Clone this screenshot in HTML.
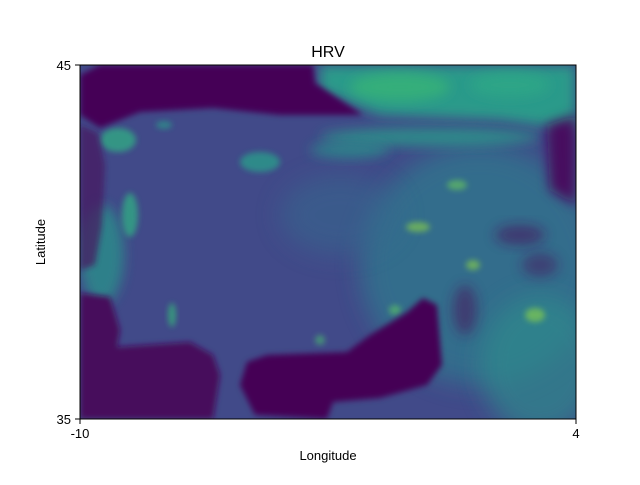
<!DOCTYPE html>
<html><head><meta charset="utf-8"><style>
body{margin:0;background:#fff;width:640px;height:480px;overflow:hidden;font-family:"Liberation Sans","DejaVu Sans",sans-serif;}
</style></head><body>
<svg width="640" height="480" viewBox="0 0 640 480">
<defs>
<filter id="b6" x="-50%" y="-50%" width="200%" height="200%"><feGaussianBlur stdDeviation="6"/></filter>
<filter id="b3" x="-50%" y="-50%" width="200%" height="200%"><feGaussianBlur stdDeviation="3"/></filter>
<filter id="b12" x="-50%" y="-50%" width="200%" height="200%"><feGaussianBlur stdDeviation="12"/></filter>
<clipPath id="pc"><rect x="0" y="0" width="496" height="354"/></clipPath>
</defs>
<text x="328" y="57" text-anchor="middle" font-size="16">HRV</text>
<g transform="translate(80,65)" clip-path="url(#pc)">
<rect width="496" height="354" fill="#414a89"/>
<ellipse cx="400" cy="200" rx="120" ry="120" fill="#2f7c8e" opacity="0.7" filter="url(#b12)"/>
<ellipse cx="460" cy="300" rx="60" ry="70" fill="#2d8a8c" opacity="0.7" filter="url(#b12)"/>
<ellipse cx="260" cy="150" rx="60" ry="40" fill="#366a8e" opacity="0.5" filter="url(#b12)"/>
<path d="M240,0 L496,0 L496,65 L420,55 L300,50 L240,25 Z" fill="#2a9a8a" filter="url(#b6)"/>
<ellipse cx="320" cy="22" rx="50" ry="14" fill="#38b477" opacity="0.8" filter="url(#b6)"/>
<ellipse cx="430" cy="20" rx="40" ry="12" fill="#2fa886" opacity="0.8" filter="url(#b6)"/>
<ellipse cx="350" cy="72" rx="110" ry="9" fill="#2a9a8a" opacity="0.8" filter="url(#b6)"/>
<ellipse cx="270" cy="85" rx="40" ry="8" fill="#2a8e8b" opacity="0.8" filter="url(#b6)"/>
<ellipse cx="38" cy="75" rx="18" ry="12" fill="#30a884" opacity="0.8" filter="url(#b3)"/>
<ellipse cx="22" cy="190" rx="22" ry="50" fill="#2a8e8b" opacity="0.8" filter="url(#b6)"/>
<ellipse cx="50" cy="150" rx="8" ry="22" fill="#30a884" opacity="0.8" filter="url(#b3)"/>
<ellipse cx="180" cy="97" rx="20" ry="10" fill="#2a9a8a" opacity="0.8" filter="url(#b3)"/>
<ellipse cx="92" cy="250" rx="4" ry="12" fill="#35b779" opacity="0.7" filter="url(#b3)"/>
<ellipse cx="84" cy="60" rx="8" ry="4" fill="#2a9a8a" opacity="0.7" filter="url(#b3)"/>
<ellipse cx="377" cy="120" rx="10" ry="5" fill="#6ccd5a" opacity="0.6" filter="url(#b3)"/>
<ellipse cx="338" cy="162" rx="12" ry="5" fill="#8fd744" opacity="0.6" filter="url(#b3)"/>
<ellipse cx="393" cy="200" rx="7" ry="5" fill="#8fd744" opacity="0.6" filter="url(#b3)"/>
<ellipse cx="455" cy="250" rx="10" ry="7" fill="#8fd744" opacity="0.6" filter="url(#b3)"/>
<ellipse cx="315" cy="245" rx="6" ry="5" fill="#5ec962" opacity="0.6" filter="url(#b3)"/>
<ellipse cx="240" cy="275" rx="5" ry="5" fill="#4ac16d" opacity="0.6" filter="url(#b3)"/>
<path d="M20,0 L233,0 L235,18 L283,50 L200,50 L133,43 L60,47 L20,63 L0,50 L0,10 Z" fill="#450457" filter="url(#b3)"/>
<path d="M0,60 L18,68 L25,100 L22,160 L15,200 L0,205 Z" fill="#46155f" opacity="0.7" filter="url(#b3)"/>
<path d="M0,228 L30,232 L40,265 L37,282 L110,277 L133,290 L140,310 L133,354 L0,354 Z" fill="#470b5c" filter="url(#b3)"/>
<path d="M167,297 L187,290 L267,287 L290,270 L327,247 L343,233 L357,240 L362,300 L347,320 L300,333 L253,337 L247,354 L175,350 L160,320 Z" fill="#440154" filter="url(#b3)"/>
<path d="M467,60 L496,50 L496,140 L470,125 Z" fill="#46115f" filter="url(#b6)"/>
<ellipse cx="440" cy="170" rx="25" ry="10" fill="#46185f" opacity="0.6" filter="url(#b6)"/>
<ellipse cx="385" cy="245" rx="12" ry="25" fill="#461a60" opacity="0.6" filter="url(#b6)"/>
<ellipse cx="460" cy="200" rx="18" ry="12" fill="#46185f" opacity="0.5" filter="url(#b6)"/>
</g>
<rect x="80" y="65" width="496" height="354" fill="none" stroke="#000" stroke-width="1"/>
<g font-size="13" fill="#000">
<line x1="80" y1="419" x2="80" y2="424" stroke="#000"/>
<line x1="576" y1="419" x2="576" y2="424" stroke="#000"/>
<text x="80" y="438" text-anchor="middle">-10</text>
<text x="576" y="438" text-anchor="middle">4</text>
<line x1="75" y1="65" x2="80" y2="65" stroke="#000"/>
<line x1="75" y1="419" x2="80" y2="419" stroke="#000"/>
<text x="71" y="70" text-anchor="end">45</text>
<text x="71" y="424" text-anchor="end">35</text>
<text x="328" y="460" text-anchor="middle">Longitude</text>
<text x="45" y="242" text-anchor="middle" transform="rotate(-90 45 242)">Latitude</text>
</g>
</svg>
</body></html>
